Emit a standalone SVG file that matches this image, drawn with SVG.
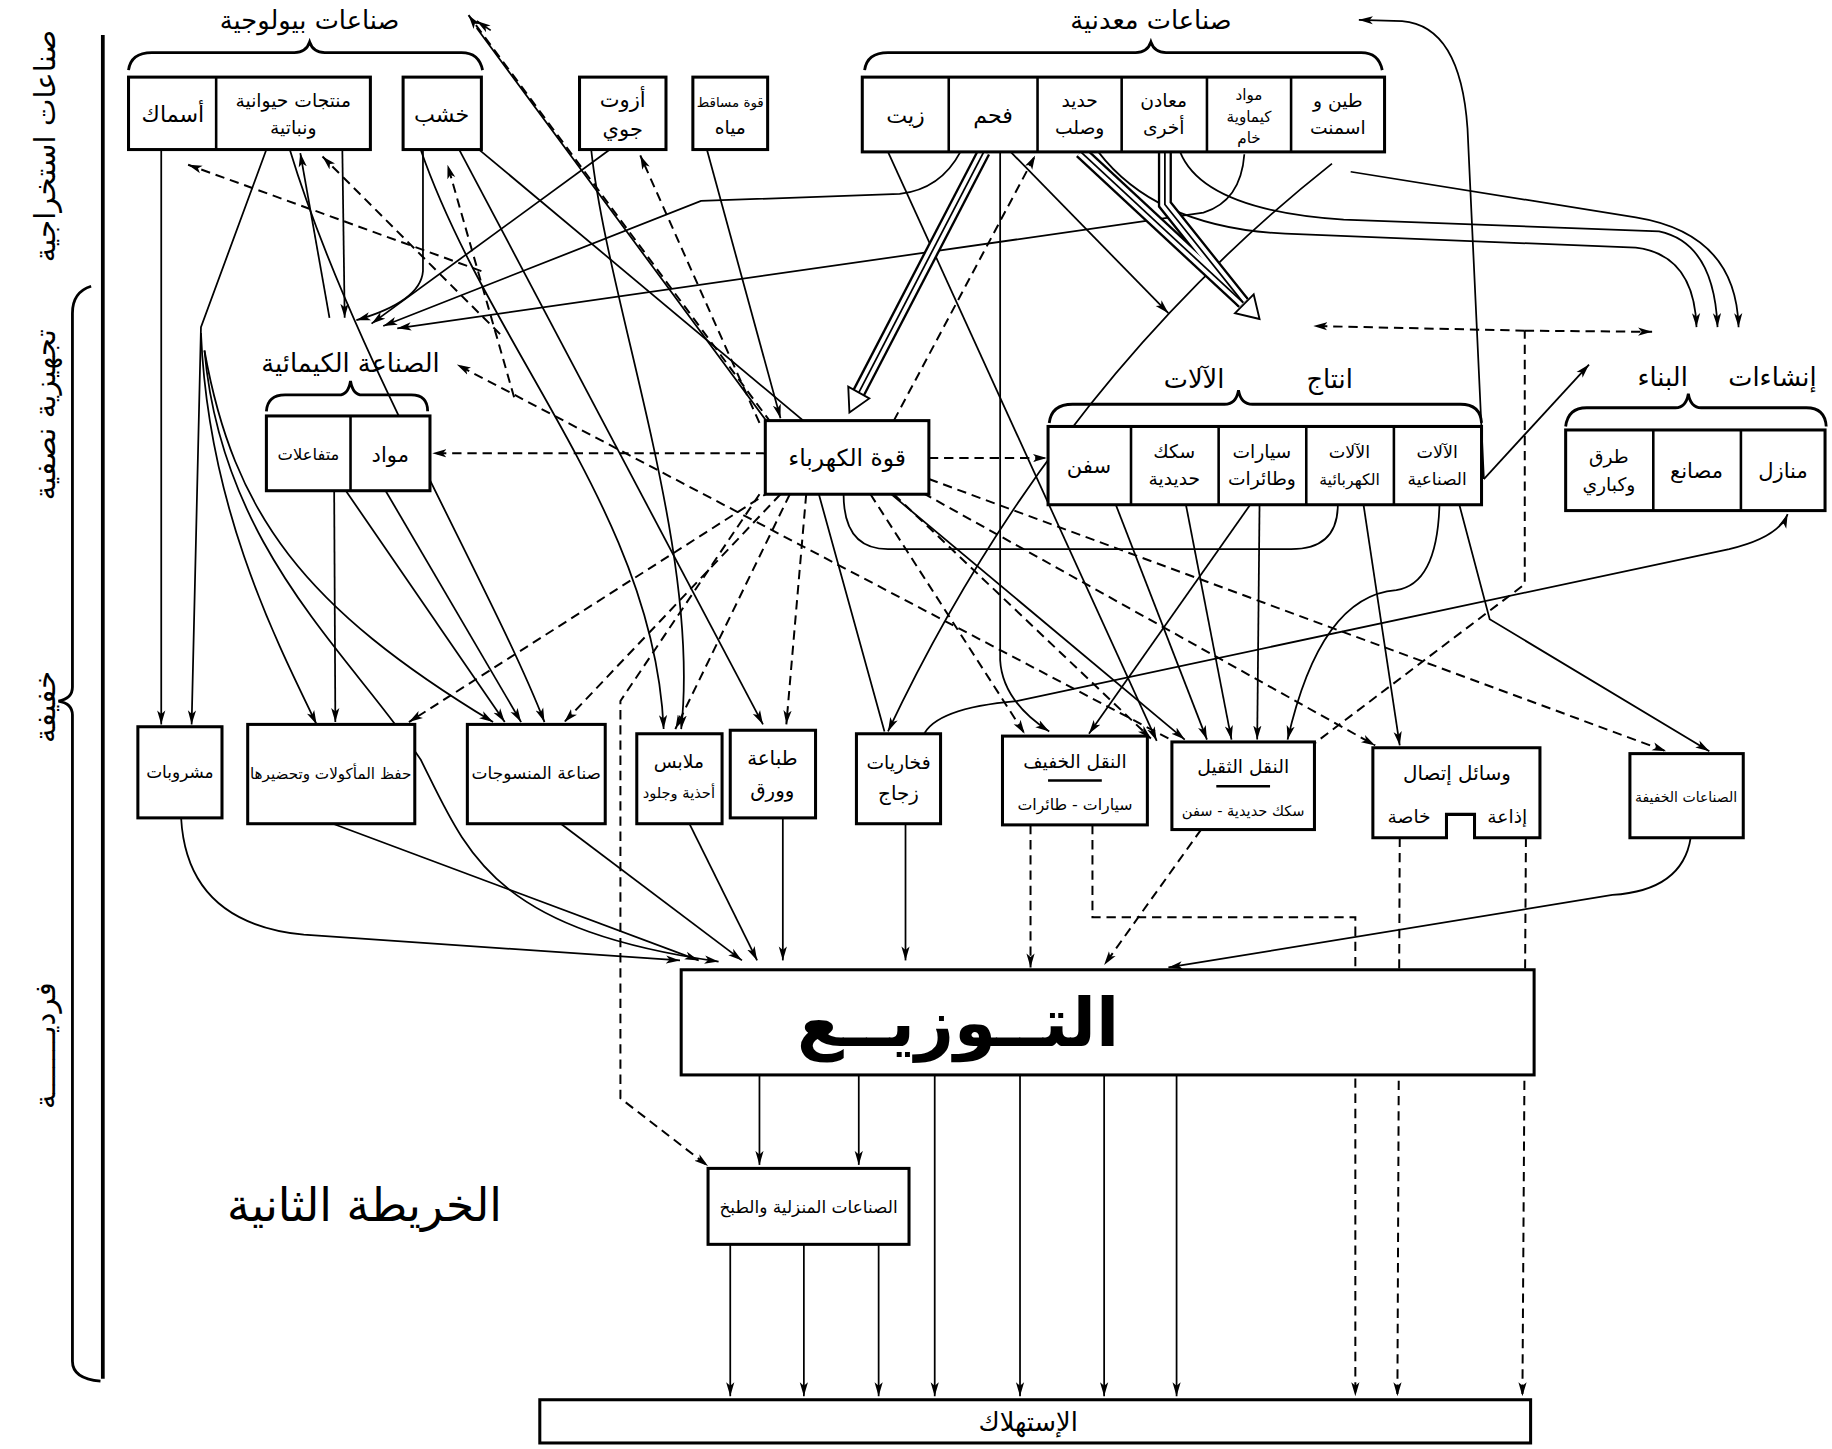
<svg xmlns="http://www.w3.org/2000/svg" width="1832" height="1449" viewBox="0 0 1832 1449">
<defs>
<style>
.bx{fill:#fff;stroke:#000;stroke-width:2.6}
.dv{fill:none;stroke:#000;stroke-width:2.2}
.l{fill:none;stroke:#000;stroke-width:1.5}
.d{fill:none;stroke:#000;stroke-width:1.7;stroke-dasharray:8 5}
.br{fill:none;stroke:#000;stroke-width:2.4}
.t{font-family:"DejaVu Sans",sans-serif;font-size:16px;text-anchor:middle;fill:#000}
.tt{font-family:"DejaVu Sans",sans-serif;font-size:22px;text-anchor:middle;fill:#000}
.big{font-family:"DejaVu Sans",sans-serif;font-size:58px;font-weight:bold;text-anchor:middle;fill:#000}
</style>
<marker id="a" viewBox="0 0 12 8" refX="12" refY="4" markerWidth="12" markerHeight="8" markerUnits="userSpaceOnUse" orient="auto"><path d="M0,0.5 L12,4 L0,7.5 L3,4 Z" fill="#000"/></marker>
</defs>
<rect width="1832" height="1449" fill="#fff"/>
<g transform="scale(1.1684)">
<g id="connectors">
<path d="M88,30 L88,1180" stroke="#000" stroke-width="3.2" fill="none"/>
<path class="br" d="M78,245 Q62,250 62,268 L62,588 Q62,598 50,600 Q62,602 62,612 L62,1165 Q62,1180 86,1182"/>
<path class="br" d="M110,60 Q112,45 130,45 L252,45 Q262,45 265,36 Q268,45 278,45 L395,45 Q410,45 413,60"/>
<path class="br" d="M740,60 Q742,45 760,45 L972,45 Q982,45 985,36 Q988,45 998,45 L1165,45 Q1180,45 1183,60"/>
<path class="br" d="M228,352 Q229,338 244,338 L290,338 Q298,338 300,326 Q302,338 310,338 L352,338 Q366,338 366,352"/>
<path class="br" d="M898,362 Q900,346 918,346 L1048,346 Q1058,346 1060,334 Q1062,346 1072,346 L1250,346 Q1267,346 1268,362"/>
<path class="br" d="M1340,365 Q1342,349 1358,349 L1434,349 Q1443,349 1445,337 Q1447,349 1456,349 L1546,349 Q1562,349 1563,365"/>
<path class="l" d="M138,128 L138,620" marker-end="url(#a)"/>
<path class="l" d="M228,128 L172,280 L164,620" marker-end="url(#a)"/>
<path class="l" d="M172,285 C178,430 232,540 271,620" marker-end="url(#a)"/>
<path class="l" d="M282,272 L257,131" marker-end="url(#a)"/>
<path class="l" d="M293,128 L295,272" marker-end="url(#a)"/>
<path class="l" d="M362,128 L362,232 Q360,258 305,274" marker-end="url(#a)"/>
<path class="l" d="M522,128 L318,277" marker-end="url(#a)"/>
<path class="l" d="M822,130 Q805,162 770,166 L600,172 L328,279" marker-end="url(#a)"/>
<path class="l" d="M1065,132 Q1062,172 1030,182 L340,281" marker-end="url(#a)"/>
<path class="l" d="M605,128 L668,358" marker-end="url(#a)"/>
<path class="l" d="M760,130 L990,634" marker-end="url(#a)"/>
<path class="l" d="M865,130 L1000,268" marker-end="url(#a)"/>
<path class="l" d="M856,130 L856,565 Q858,600 898,626" marker-end="url(#a)"/>
<path class="l" d="M393,128 L653,620" marker-end="url(#a)"/>
<path class="l" d="M410,128 L1014,633" marker-end="url(#a)"/>
<path class="l" d="M408,24 L700,420 L757,626"/>
<path class="l" d="M420,26 L408,18" marker-end="url(#a)"/>
<path class="l" d="M286,420 L287,618" marker-end="url(#a)"/>
<path class="l" d="M296,420 L432,618" marker-end="url(#a)"/>
<path class="l" d="M330,420 L446,618" marker-end="url(#a)"/>
<path class="l" d="M248,128 C300,300 420,500 466,618" marker-end="url(#a)"/>
<path class="l" d="M175,300 C200,440 260,520 422,618" marker-end="url(#a)"/>
<path class="l" d="M360,128 C420,300 560,440 568,624" marker-end="url(#a)"/>
<path class="l" d="M506,128 C520,260 600,470 583,624" marker-end="url(#a)"/>
<path class="l" d="M1140,140 Q900,330 760,626" marker-end="url(#a)"/>
<path class="l" d="M1270,410 L1360,312" marker-end="url(#a)"/>
<path class="l" d="M1270,410 L1256,110 Q1250,22 1200,18 L1163,17" marker-end="url(#a)"/>
<path class="l" d="M1249,432 L1275,530 L1463,643" marker-end="url(#a)"/>
<path class="l" d="M1232,432 Q1230,500 1195,505 Q1130,510 1102,633" marker-end="url(#a)"/>
<path class="l" d="M1167,432 L1198,638" marker-end="url(#a)"/>
<path class="l" d="M1145,432 Q1145,470 1105,470 L760,470 Q722,470 722,423"/>
<path class="l" d="M1070,432 L932,628" marker-end="url(#a)"/>
<path class="l" d="M1078,432 L1076,633" marker-end="url(#a)"/>
<path class="l" d="M1015,432 L1054,633" marker-end="url(#a)"/>
<path class="l" d="M955,432 L1033,633" marker-end="url(#a)"/>
<path class="l" d="M790,630 Q800,606 870,600 L1480,470 Q1522,460 1530,440" marker-end="url(#a)"/>
<path class="l" d="M940,130 Q990,195 1100,200 L1400,212 Q1450,218 1452,280" marker-end="url(#a)"/>
<path class="l" d="M1010,130 Q1030,180 1150,188 L1420,198 Q1467,208 1470,280" marker-end="url(#a)"/>
<path class="l" d="M1156,147 L1400,186 Q1486,200 1488,280" marker-end="url(#a)"/>
<path d="M842,130 L735,336" fill="none" stroke="#000" stroke-width="12"/>
<path d="M842,130 L735,336" fill="none" stroke="#fff" stroke-width="8"/>
<path d="M842,130 L735,336" fill="none" stroke="#000" stroke-width="1.5"/>
<polygon points="727,353 744,341 726,331" fill="#fff" stroke="#000" stroke-width="1.6"/>
<path d="M925,130 L1064,259" fill="none" stroke="#000" stroke-width="12"/>
<path d="M997,130 L997,175 L1064,259" fill="none" stroke="#000" stroke-width="12"/>
<path d="M925,130 L1064,259" fill="none" stroke="#fff" stroke-width="8"/>
<path d="M997,130 L997,175 L1064,259" fill="none" stroke="#fff" stroke-width="8"/>
<path d="M925,130 L1064,259" fill="none" stroke="#000" stroke-width="1.5"/>
<path d="M997,130 L997,175 L1064,259" fill="none" stroke="#000" stroke-width="1.5"/>
<polygon points="1078,273 1057,268 1073,252" fill="#fff" stroke="#000" stroke-width="1.6"/>
<path class="d" d="M660,362 L401,13" marker-end="url(#a)"/>
<path class="d" d="M650,362 L548,133" marker-end="url(#a)"/>
<path class="d" d="M765,360 L886,133" marker-end="url(#a)"/>
<path class="d" d="M655,388 L370,388" marker-end="url(#a)"/>
<path class="d" d="M795,392 L896,392" marker-end="url(#a)"/>
<path class="d" d="M660,420 L350,618" marker-end="url(#a)"/>
<path class="d" d="M668,423 L483,618" marker-end="url(#a)"/>
<path class="d" d="M676,423 L578,624" marker-end="url(#a)"/>
<path class="d" d="M690,423 L673,620" marker-end="url(#a)"/>
<path class="d" d="M745,423 L877,628" marker-end="url(#a)"/>
<path class="d" d="M765,423 L985,632" marker-end="url(#a)"/>
<path class="d" d="M790,422 L1177,638" marker-end="url(#a)"/>
<path class="d" d="M795,410 L1426,643" marker-end="url(#a)"/>
<path class="d" d="M650,423 L531,600 L531,940 L606,998" marker-end="url(#a)"/>
<path class="d" d="M1000,632 L391,312" marker-end="url(#a)"/>
<path class="d" d="M440,340 L383,141" marker-end="url(#a)"/>
<path class="d" d="M412,232 L161,141" marker-end="url(#a)"/>
<path class="d" d="M428,286 L276,134" marker-end="url(#a)"/>
<path class="d" d="M1120,640 L1305,500 L1305,283"/>
<path class="d" d="M1305,283 L1124,279" marker-end="url(#a)"/>
<path class="d" d="M1305,283 L1414,284" marker-end="url(#a)"/>
<path class="d" d="M882,706 L882,828" marker-end="url(#a)"/>
<path class="d" d="M935,706 L935,785 L1160,785 L1160,1195" marker-end="url(#a)"/>
<path class="d" d="M1028,710 L945,826" marker-end="url(#a)"/>
<path class="d" d="M1198,717 L1196,1195" marker-end="url(#a)"/>
<path class="d" d="M1306,717 L1303,1195" marker-end="url(#a)"/>
<path class="l" d="M155,700 Q160,790 260,800 L582,822" marker-end="url(#a)"/>
<path class="l" d="M285,705 L598,822" marker-end="url(#a)"/>
<path class="l" d="M175,300 C190,470 300,560 360,650 C400,730 420,795 615,823" marker-end="url(#a)"/>
<path class="l" d="M480,705 L635,822" marker-end="url(#a)"/>
<path class="l" d="M590,705 L648,822" marker-end="url(#a)"/>
<path class="l" d="M670,700 L670,822" marker-end="url(#a)"/>
<path class="l" d="M775,705 L775,822" marker-end="url(#a)"/>
<path class="l" d="M1447,717 Q1440,762 1380,766 L1000,828" marker-end="url(#a)"/>
<path class="l" d="M650,920 L650,997" marker-end="url(#a)"/>
<path class="l" d="M735,920 L735,997" marker-end="url(#a)"/>
<path class="l" d="M800,920 L800,1195" marker-end="url(#a)"/>
<path class="l" d="M873,920 L873,1195" marker-end="url(#a)"/>
<path class="l" d="M945,920 L945,1195" marker-end="url(#a)"/>
<path class="l" d="M1007,920 L1007,1195" marker-end="url(#a)"/>
<path class="l" d="M625,1065 L625,1195" marker-end="url(#a)"/>
<path class="l" d="M688,1065 L688,1195" marker-end="url(#a)"/>
<path class="l" d="M752,1065 L752,1195" marker-end="url(#a)"/>
</g>

<g id="side-labels">
<text class="tt" style="font-size:25px" transform="translate(47,125) rotate(-90)">صناعات استخراجية</text>
<text class="tt" style="font-size:25px" transform="translate(47,355) rotate(-90)">تجهيزية نصفية</text>
<text class="tt" style="font-size:25px" transform="translate(47,605) rotate(-90)">خفيفة</text>
<text class="tt" style="font-size:25px" transform="translate(47,895) rotate(-90)">فرديـــــــة</text>
</g>

<g id="titles">
<text class="tt" x="265" y="25">صناعات بيولوجية</text>
<text class="tt" x="985" y="25">صناعات معدنية</text>
<text class="tt" x="300" y="318">الصناعة الكيمائية</text>
<text class="tt" x="1022" y="332">الآلات</text>
<text class="tt" x="1138" y="332">انتاج</text>
<text class="tt" x="1423" y="330">البناء</text>
<text class="tt" x="1517" y="330">إنشاءات</text>
<text class="tt" x="312" y="1045" style="font-size:39px">الخريطة الثانية</text>
</g>

<g id="n-bio">
<rect class="bx" x="110" y="66" width="207" height="62"/>
<path class="dv" d="M185,66 L185,128"/>
<text class="t" x="148" y="104" style="font-size:19px">أسماك</text>
<text class="t" x="251" y="92">منتجات حيوانية</text>
<text class="t" x="251" y="115">ونباتية</text>
</g>
<g id="n-wood">
<rect class="bx" x="345" y="66" width="67" height="62"/>
<text class="t" x="378" y="104" style="font-size:19px">خشب</text>
</g>
<g id="n-nitrogen">
<rect class="bx" x="496" y="66" width="74" height="62"/>
<text class="t" x="533" y="92" style="font-size:18px">أزوت</text>
<text class="t" x="533" y="116" style="font-size:18px">جوي</text>
</g>
<g id="n-hydro">
<rect class="bx" x="593" y="66" width="64" height="62"/>
<text class="t" x="625" y="92" style="font-size:11.5px">قوة مساقط</text>
<text class="t" x="625" y="115">مياه</text>
</g>
<g id="n-metal">
<rect class="bx" x="738" y="66" width="447" height="64"/>
<path class="dv" d="M812,66 L812,130 M888,66 L888,130 M960,66 L960,130 M1033,66 L1033,130 M1105,66 L1105,130"/>
<text class="t" x="775" y="105" style="font-size:19px">زيت</text>
<text class="t" x="850" y="105" style="font-size:19px">فحم</text>
<text class="t" x="924" y="92">حديد</text>
<text class="t" x="924" y="115">وصلب</text>
<text class="t" x="996" y="92">معادن</text>
<text class="t" x="996" y="115">أخرى</text>
<text class="t" x="1069" y="86" style="font-size:13px">مواد</text>
<text class="t" x="1069" y="104" style="font-size:13px">كيماوية</text>
<text class="t" x="1069" y="122" style="font-size:13px">خام</text>
<text class="t" x="1145" y="92">طين و</text>
<text class="t" x="1145" y="115">اسمنت</text>
</g>
<g id="n-chem">
<rect class="bx" x="228" y="356" width="140" height="64"/>
<path class="dv" d="M300,356 L300,420"/>
<text class="t" x="334" y="395" style="font-size:18px">مواد</text>
<text class="t" x="264" y="394" style="font-size:14px">متفاعلات</text>
</g>
<g id="n-power">
<rect class="bx" x="655" y="360" width="140" height="63"/>
<text class="t" x="725" y="399" style="font-size:20px">قوة الكهرباء</text>
</g>
<g id="n-machines">
<rect class="bx" x="897" y="365" width="371" height="67"/>
<path class="dv" d="M968,365 L968,432 M1043,365 L1043,432 M1118,365 L1118,432 M1193,365 L1193,432"/>
<text class="t" x="932" y="405" style="font-size:18px">سفن</text>
<text class="t" x="1005" y="392">سكك</text>
<text class="t" x="1005" y="415">حديدية</text>
<text class="t" x="1080" y="392">سيارات</text>
<text class="t" x="1080" y="415">وطائرات</text>
<text class="t" x="1155" y="392" style="font-size:15px">الآلات</text>
<text class="t" x="1155" y="415" style="font-size:13.5px">الكهربائية</text>
<text class="t" x="1230" y="392" style="font-size:15px">الآلات</text>
<text class="t" x="1230" y="415" style="font-size:14.5px">الصناعية</text>
</g>
<g id="n-building">
<rect class="bx" x="1340" y="368" width="222" height="69"/>
<path class="dv" d="M1415,368 L1415,437 M1490,368 L1490,437"/>
<text class="t" x="1377" y="396">طرق</text>
<text class="t" x="1377" y="420">وكباري</text>
<text class="t" x="1452" y="409" style="font-size:18px">مصانع</text>
<text class="t" x="1526" y="409" style="font-size:18px">منازل</text>
</g>
<g id="n-drinks">
<rect class="bx" x="118" y="622" width="72" height="78"/>
<text class="t" x="154" y="666" style="font-size:14.5px">مشروبات</text>
</g>
<g id="n-food">
<rect class="bx" x="212" y="620" width="143" height="85"/>
<text class="t" x="283" y="667" style="font-size:13px">حفظ المأكولات وتحضيرها</text>
</g>
<g id="n-textile">
<rect class="bx" x="400" y="620" width="118" height="85"/>
<text class="t" x="459" y="667" style="font-size:14.5px">صناعة المنسوجات</text>
</g>
<g id="n-clothes">
<rect class="bx" x="545" y="628" width="73" height="77"/>
<text class="t" x="581" y="657">ملابس</text>
<text class="t" x="581" y="683" style="font-size:12.5px">أحذية وجلود</text>
</g>
<g id="n-print">
<rect class="bx" x="625" y="625" width="73" height="75"/>
<text class="t" x="661" y="655" style="font-size:17px">طباعة</text>
<text class="t" x="661" y="682" style="font-size:17px">وورق</text>
</g>
<g id="n-pottery">
<rect class="bx" x="733" y="628" width="72" height="77"/>
<text class="t" x="769" y="658">فخاريات</text>
<text class="t" x="769" y="685" style="font-size:17px">زجاج</text>
</g>
<g id="n-light-transport">
<rect class="bx" x="858" y="630" width="124" height="76"/>
<text class="t" x="920" y="657">النقل الخفيف</text>
<path class="dv" d="M897,668 L943,668"/>
<text class="t" x="920" y="693" style="font-size:13.5px">سيارات - طائرات</text>
</g>
<g id="n-heavy-transport">
<rect class="bx" x="1003" y="635" width="122" height="75"/>
<text class="t" x="1064" y="662">النقل الثقيل</text>
<path class="dv" d="M1041,673 L1087,673"/>
<text class="t" x="1064" y="698" style="font-size:12.5px">سكك حديدية - سفن</text>
</g>
<g id="n-comm">
<path class="bx" d="M1175,640 L1318,640 L1318,717 L1262,717 L1262,697 L1238,697 L1238,717 L1175,717 Z"/>
<text class="t" x="1247" y="668" style="font-size:17px">وسائل إتصال</text>
<text class="t" x="1290" y="704">إذاعة</text>
<text class="t" x="1206" y="704">خاصة</text>
</g>
<g id="n-light-ind">
<rect class="bx" x="1395" y="645" width="97" height="72"/>
<text class="t" x="1443" y="686" style="font-size:12px">الصناعات الخفيفة</text>
</g>
<g id="n-distribution">
<rect class="bx" x="583" y="830" width="730" height="90"/>
<text class="big" x="820" y="895">التــوزيــع</text>
</g>
<g id="n-home">
<rect class="bx" x="606" y="1000" width="172" height="65"/>
<text class="t" x="692" y="1038" style="font-size:14.5px">الصناعات المنزلية والطبخ</text>
</g>
<g id="n-consumption">
<rect class="bx" x="462" y="1198" width="848" height="37"/>
<text class="tt" x="880" y="1225">الإستهلاك</text>
</g>
</g>
</svg>
